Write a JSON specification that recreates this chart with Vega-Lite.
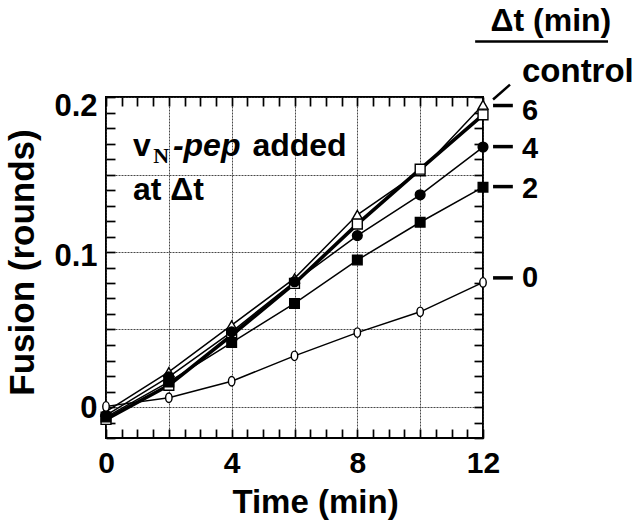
{
  "$schema": "https://vega.github.io/schema/vega-lite/v6.json",
  "width": 377,
  "height": 341,
  "autosize": {"type": "none"},
  "padding": {"left": 106, "top": 97, "right": 157, "bottom": 86},
  "background": "white",
  "config": {
    "view": {"stroke": "black", "strokeWidth": 2},
    "font": "Liberation Sans"
  },
  "resolve": {"axis": {"x": "independent", "y": "independent"}},
  "datasets": {
    "series": [
      {"t": 0, "v": -0.003, "s": "control"}, {"t": 2, "v": 0.0226, "s": "control"}, {"t": 4, "v": 0.0528, "s": "control"}, {"t": 6, "v": 0.083, "s": "control"}, {"t": 8, "v": 0.124, "s": "control"}, {"t": 10, "v": 0.152, "s": "control"}, {"t": 12, "v": 0.195, "s": "control"},
      {"t": 0, "v": -0.008, "s": "6"}, {"t": 2, "v": 0.014, "s": "6"}, {"t": 4, "v": 0.0463, "s": "6"}, {"t": 6, "v": 0.0797, "s": "6"}, {"t": 8, "v": 0.118, "s": "6"}, {"t": 10, "v": 0.1534, "s": "6"}, {"t": 12, "v": 0.1885, "s": "6"},
      {"t": 0, "v": -0.0054, "s": "4"}, {"t": 2, "v": 0.0194, "s": "4"}, {"t": 4, "v": 0.0485, "s": "4"}, {"t": 6, "v": 0.0808, "s": "4"}, {"t": 8, "v": 0.1106, "s": "4"}, {"t": 10, "v": 0.1369, "s": "4"}, {"t": 12, "v": 0.1677, "s": "4"},
      {"t": 0, "v": -0.0065, "s": "2"}, {"t": 2, "v": 0.0162, "s": "2"}, {"t": 4, "v": 0.0416, "s": "2"}, {"t": 6, "v": 0.0668, "s": "2"}, {"t": 8, "v": 0.0948, "s": "2"}, {"t": 10, "v": 0.1192, "s": "2"}, {"t": 12, "v": 0.1418, "s": "2"},
      {"t": 0, "v": 0.0004, "s": "0"}, {"t": 2, "v": 0.006, "s": "0"}, {"t": 4, "v": 0.0166, "s": "0"}, {"t": 6, "v": 0.033, "s": "0"}, {"t": 8, "v": 0.048, "s": "0"}, {"t": 10, "v": 0.0614, "s": "0"}, {"t": 12, "v": 0.0804, "s": "0"}
    ],
    "dashes": [
      {"x": 12.32, "x2": 12.95, "y": 0.1945, "y2": 0.1945},
      {"x": 12.32, "x2": 12.95, "y": 0.168, "y2": 0.168},
      {"x": 12.32, "x2": 12.95, "y": 0.1422, "y2": 0.1422},
      {"x": 12.32, "x2": 12.95, "y": 0.0833, "y2": 0.0833}
    ],
    "slash": [{"x": 12.32, "x2": 12.86, "y": 0.1984, "y2": 0.208}],
    "underline": [{"x": 11.75, "x2": 15.98, "y": 0.2358, "y2": 0.2358}],
    "numlabels": [
      {"x": 13.24, "y": 0.1854, "text": "6"},
      {"x": 13.24, "y": 0.1609, "text": "4"},
      {"x": 13.24, "y": 0.135, "text": "2"},
      {"x": 13.24, "y": 0.0774, "text": "0"}
    ],
    "control": [{"x": 13.24, "y": 0.2094, "text": "control"}],
    "boldtexts": [
      {"x": 0.86, "y": 0.1617, "text": "v"},
      {"x": 4.66, "y": 0.1617, "text": "added"},
      {"x": 0.86, "y": 0.1337, "text": "at Δt"}
    ],
    "sub": [{"x": 1.5, "y": 0.1577, "text": "N"}],
    "ital": [{"x": 2.13, "y": 0.1617, "text": "-pep"}],
    "head": [{"x": 14.16, "y": 0.2424, "text": "Δt (min)"}]
  },
  "layer": [
    {
      "data": {"name": "series"},
      "transform": [{"filter": "datum.s !== '6'"}],
      "mark": {"type": "line", "color": "black", "strokeWidth": 1.5},
      "encoding": {
        "x": {
          "field": "t", "type": "quantitative",
          "scale": {"domain": [0, 12], "nice": false, "zero": false},
          "axis": {
            "orient": "bottom",
            "values": [0, 2, 4, 6, 8, 10, 12],
            "domain": false, "ticks": false,
            "grid": true, "gridColor": "#333", "gridWidth": 0.9, "gridDash": [2, 1],
            "labelExpr": "datum.value % 4 === 0 ? '' + datum.value : ''",
            "labelFont": "Liberation Sans", "labelFontSize": 30, "labelFontWeight": "bold", "labelColor": "black",
            "labelPadding": 10, "labelOverlap": false, "labelFlush": false, "labelBound": false,
            "title": "Time (min)", "titleFont": "Liberation Sans", "titleFontSize": 33, "titleFontWeight": "bold", "titleColor": "black",
            "titleX": 209, "titleY": 74, "titleBaseline": "alphabetic", "titleAlign": "center"
          }
        },
        "y": {
          "field": "v", "type": "quantitative",
          "scale": {"domain": [-0.02, 0.2], "nice": false, "zero": false},
          "axis": {
            "orient": "left",
            "values": [0, 0.05, 0.1, 0.15, 0.2],
            "domain": false, "ticks": false,
            "grid": true, "gridColor": "#333", "gridWidth": 0.9, "gridDash": [2, 1],
            "labelExpr": "abs(datum.value*10 - round(datum.value*10)) < 0.000001 ? (abs(datum.value) < 0.000001 ? '0' : format(datum.value, '.1f')) : ''",
            "labelFont": "Liberation Sans", "labelFontSize": 31, "labelFontWeight": "bold", "labelColor": "black",
            "labelPadding": 9,
            "labelOffset": {"condition": [{"test": "datum.value > 0.15", "value": 9}, {"test": "datum.value > 0.05", "value": 4}], "value": 1},
            "labelOverlap": false, "labelFlush": false, "labelBound": false,
            "title": "Fusion (rounds)", "titleFont": "Liberation Sans", "titleFontSize": 35, "titleFontWeight": "bold", "titleColor": "black",
            "titleX": -73, "titleY": 165, "titleAngle": -90, "titleBaseline": "alphabetic", "titleAlign": "center"
          }
        },
        "detail": {"field": "s", "type": "nominal"}
      }
    },
    {
      "data": {"name": "series"},
      "transform": [{"filter": "datum.s === '6'"}],
      "mark": {"type": "line", "color": "black", "strokeWidth": 3.6},
      "encoding": {
        "x": {
          "field": "t", "type": "quantitative",
          "axis": {
            "orient": "bottom",
            "values": [0, 0.5, 1, 1.5, 2, 2.5, 3, 3.5, 4, 4.5, 5, 5.5, 6, 6.5, 7, 7.5, 8, 8.5, 9, 9.5, 10, 10.5, 11, 11.5, 12],
            "domain": false, "grid": false, "labels": false, "title": null,
            "ticks": true, "tickSize": -9, "tickColor": "black", "tickWidth": 1.7
          }
        },
        "y": {
          "field": "v", "type": "quantitative",
          "axis": {
            "orient": "left",
            "values": [-0.02, -0.01, 0, 0.01, 0.02, 0.03, 0.04, 0.05, 0.06, 0.07, 0.08, 0.09, 0.1, 0.11, 0.12, 0.13, 0.14, 0.15, 0.16, 0.17, 0.18, 0.19, 0.2],
            "domain": false, "grid": false, "labels": false, "title": null,
            "ticks": true, "tickSize": -9, "tickColor": "black", "tickWidth": 1.7
          }
        }
      }
    },
    {
      "data": {"name": "series"},
      "mark": {"type": "point", "filled": true, "stroke": "black", "strokeWidth": 1.4, "opacity": 1},
      "encoding": {
        "x": {
          "field": "t", "type": "quantitative",
          "axis": {
            "orient": "top",
            "values": [0, 0.5, 1, 1.5, 2, 2.5, 3, 3.5, 4, 4.5, 5, 5.5, 6, 6.5, 7, 7.5, 8, 8.5, 9, 9.5, 10, 10.5, 11, 11.5, 12],
            "domain": false, "grid": false, "labels": false, "title": null,
            "ticks": true, "tickSize": -9, "tickColor": "black", "tickWidth": 1.7
          }
        },
        "y": {
          "field": "v", "type": "quantitative",
          "axis": {
            "orient": "right",
            "values": [-0.02, -0.01, 0, 0.01, 0.02, 0.03, 0.04, 0.05, 0.06, 0.07, 0.08, 0.09, 0.1, 0.11, 0.12, 0.13, 0.14, 0.15, 0.16, 0.17, 0.18, 0.19, 0.2],
            "domain": false, "grid": false, "labels": false, "title": null,
            "ticks": true, "tickSize": -9, "tickColor": "black", "tickWidth": 1.7
          }
        },
        "shape": {
          "field": "s", "type": "nominal",
          "scale": {"domain": ["control", "6", "4", "2", "0"], "range": ["triangle-up", "square", "circle", "square", "M 0 -1 A 0.68 1 0 1 1 0 1 A 0.68 1 0 1 1 0 -1 Z"]},
          "legend": null
        },
        "fill": {
          "field": "s", "type": "nominal",
          "scale": {"domain": ["control", "6", "4", "2", "0"], "range": ["white", "white", "black", "black", "white"]},
          "legend": null
        },
        "size": {
          "field": "s", "type": "nominal",
          "scale": {"domain": ["control", "6", "4", "2", "0"], "range": [100, 90, 45, 36, 70]},
          "legend": null
        }
      }
    },
    {
      "data": {"name": "dashes"},
      "mark": {"type": "rule", "color": "black", "strokeWidth": 3.5},
      "encoding": {
        "x": {"field": "x", "type": "quantitative", "axis": null},
        "x2": {"field": "x2"},
        "y": {"field": "y", "type": "quantitative", "axis": null},
        "y2": {"field": "y2"}
      }
    },
    {
      "data": {"name": "slash"},
      "mark": {"type": "rule", "color": "black", "strokeWidth": 2.5},
      "encoding": {
        "x": {"field": "x", "type": "quantitative", "axis": null},
        "x2": {"field": "x2"},
        "y": {"field": "y", "type": "quantitative", "axis": null},
        "y2": {"field": "y2"}
      }
    },
    {
      "data": {"name": "underline"},
      "mark": {"type": "rule", "color": "black", "strokeWidth": 2.5},
      "encoding": {
        "x": {"field": "x", "type": "quantitative", "axis": null},
        "x2": {"field": "x2"},
        "y": {"field": "y", "type": "quantitative", "axis": null},
        "y2": {"field": "y2"}
      }
    },
    {
      "data": {"name": "numlabels"},
      "mark": {"type": "text", "font": "Liberation Sans", "fontSize": 29, "fontWeight": "bold", "align": "left", "baseline": "alphabetic", "color": "black"},
      "encoding": {
        "x": {"field": "x", "type": "quantitative", "axis": null},
        "y": {"field": "y", "type": "quantitative", "axis": null},
        "text": {"field": "text"}
      }
    },
    {
      "data": {"name": "control"},
      "mark": {"type": "text", "font": "Liberation Sans", "fontSize": 33, "fontWeight": "bold", "align": "left", "baseline": "alphabetic", "color": "black"},
      "encoding": {
        "x": {"field": "x", "type": "quantitative", "axis": null},
        "y": {"field": "y", "type": "quantitative", "axis": null},
        "text": {"field": "text"}
      }
    },
    {
      "data": {"name": "boldtexts"},
      "mark": {"type": "text", "font": "Liberation Sans", "fontSize": 32, "fontWeight": "bold", "align": "left", "baseline": "alphabetic", "color": "black"},
      "encoding": {
        "x": {"field": "x", "type": "quantitative", "axis": null},
        "y": {"field": "y", "type": "quantitative", "axis": null},
        "text": {"field": "text"}
      }
    },
    {
      "data": {"name": "sub"},
      "mark": {"type": "text", "font": "Liberation Serif", "fontSize": 22, "fontWeight": "bold", "align": "left", "baseline": "alphabetic", "color": "black"},
      "encoding": {
        "x": {"field": "x", "type": "quantitative", "axis": null},
        "y": {"field": "y", "type": "quantitative", "axis": null},
        "text": {"field": "text"}
      }
    },
    {
      "data": {"name": "ital"},
      "mark": {"type": "text", "font": "Liberation Sans", "fontSize": 32, "fontWeight": "bold", "fontStyle": "italic", "align": "left", "baseline": "alphabetic", "color": "black"},
      "encoding": {
        "x": {"field": "x", "type": "quantitative", "axis": null},
        "y": {"field": "y", "type": "quantitative", "axis": null},
        "text": {"field": "text"}
      }
    },
    {
      "data": {"name": "head"},
      "mark": {"type": "text", "font": "Liberation Sans", "fontSize": 32, "fontWeight": "bold", "align": "center", "baseline": "alphabetic", "color": "black"},
      "encoding": {
        "x": {"field": "x", "type": "quantitative", "axis": null},
        "y": {"field": "y", "type": "quantitative", "axis": null},
        "text": {"field": "text"}
      }
    }
  ]
}
